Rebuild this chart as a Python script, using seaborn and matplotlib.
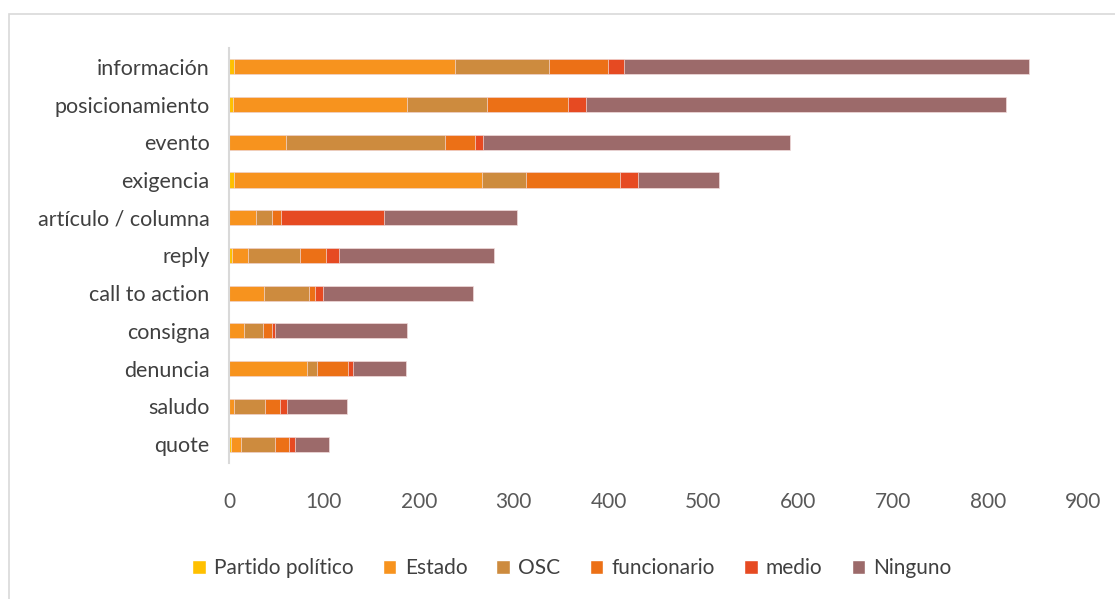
import numpy as np
import pandas as pd
import matplotlib
matplotlib.use('Agg')
import matplotlib.pyplot as plt
from matplotlib.patches import Patch, Rectangle
import seaborn as sns

categorias = ['información', 'posicionamiento', 'evento', 'exigencia', 'artículo / columna',
              'reply', 'call to action', 'consigna', 'denuncia', 'saludo', 'quote']
series = ['Partido político', 'Estado', 'OSC', 'funcionario', 'medio', 'Ninguno']

partido = [5, 4, 0, 5, 0, 3, 0, 0, 0, 0, 2]
estado = [233, 184, 60, 262, 28, 17, 37, 16, 82, 5, 11]
osc = [99, 84, 168, 46, 17, 55, 47, 20, 11, 33, 35]
funcionario = [62, 85, 31, 99, 10, 27, 7, 9, 32, 16, 15]
medio = [17, 19, 9, 19, 108, 14, 8, 3, 6, 7, 7]
ninguno = [427, 443, 323, 85, 141, 163, 158, 140, 55, 63, 35]

colores = ['#FFC000', '#F7931E', '#CD8B3E', '#EC7016', '#E64A22', '#9C6A6A']

df = pd.DataFrame({'categoria': categorias, 'Partido político': partido, 'Estado': estado,
                   'OSC': osc, 'funcionario': funcionario, 'medio': medio, 'Ninguno': ninguno})
acum = df[series].cumsum(axis=1)
acum['categoria'] = df['categoria']

sns.set_style('white')
plt.rcParams['font.family'] = ['Lato', 'DejaVu Sans']

fig = plt.figure(figsize=(11.15, 5.99), dpi=100)
ax = fig.add_axes([0.2054, 0.227, 0.7659, 0.693])

# stacked bars: draw cumulative totals from the last series to the first
for serie, color in zip(series[::-1], colores[::-1]):
    sns.barplot(data=acum, x=serie, y='categoria', order=categorias, orient='h',
                color=color, saturation=1, width=0.4, edgecolor='#F2DCDB',
                linewidth=0.5, ax=ax)

ax.set_xlim(0, 900)
ax.set_xticks(range(0, 901, 100))
ax.set_xlabel('')
ax.set_ylabel('')
ax.tick_params(axis='x', labelsize=15, colors='#595959', length=0, pad=21)
ax.tick_params(axis='y', labelsize=15.5, colors='#404040', length=0, pad=14)
for s in ['top', 'right', 'bottom']:
    ax.spines[s].set_visible(False)
ax.spines['left'].set_color('#D9D9D9')
ax.spines['left'].set_linewidth(1.5)

handles = [Patch(facecolor=c, label=s) for s, c in zip(series, colores)]
fig.legend(handles=handles, loc='center', bbox_to_anchor=(0.513, 0.051), ncol=6,
           frameon=False, fontsize=15, handlelength=0.65, handleheight=0.65,
           columnspacing=1.4, handletextpad=0.4, labelcolor='#404040')

# chart border
fig.patches.append(Rectangle((8.5 / 1115, -0.1), 1.2, 1.1 - 14.5 / 599, transform=fig.transFigure,
                             fill=False, edgecolor='#D9D9D9', linewidth=1.2))

fig.savefig('out.png', dpi=100)
